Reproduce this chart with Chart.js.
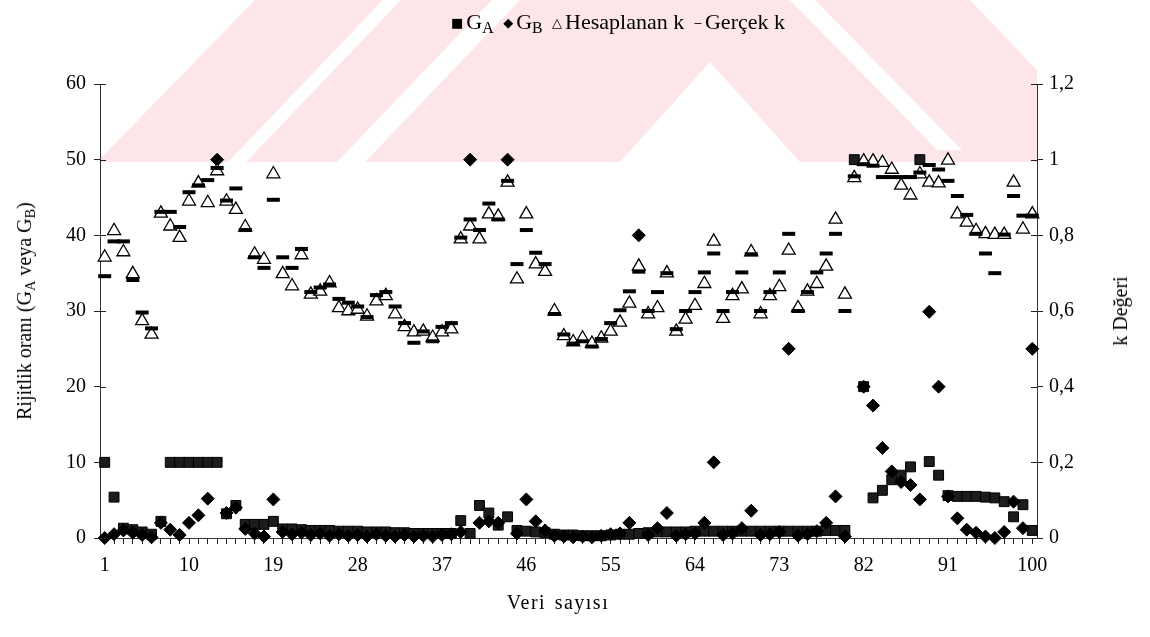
<!DOCTYPE html>
<html>
<head>
<meta charset="utf-8">
<script src="https://cdn.jsdelivr.net/npm/chart.js@4.4.0/dist/chart.umd.min.js"></script>
<style>
  html, body { margin: 0; padding: 0; background: #fff; }
  #wrap { position: relative; width: 1150px; height: 637px; font-family: 'Liberation Serif', 'Times New Roman', serif; color: #000; }
  #chart { position: absolute; left: 0; top: 0; }
  .lbl { position: absolute; white-space: nowrap; font-size: 20px; line-height: 1; }
  .lbl sub { font-size: 0.72em; vertical-align: -0.25em; line-height: 0; }
  #legend { left: 616px; top: 22px; transform: translate(-50%, -50%); font-size: 22px; }
  #legend .mk { font-family: 'DejaVu Sans', sans-serif; font-size: 13px; vertical-align: 2px; margin: 0 3px 0 4px; }
  #ytitle { left: 24px; top: 311px; transform: translate(-50%, -50%) rotate(-90deg); }
  #y2title { left: 1120px; top: 311px; transform: translate(-50%, -50%) rotate(-90deg); }
  #xtitle { left: 558px; top: 602px; transform: translate(-50%, -50%); letter-spacing: 1.5px; word-spacing: 2px; }
</style>
</head>
<body>
<div id="wrap">
  <canvas id="chart" width="1150" height="637"></canvas>
  <div class="lbl" id="legend"><span class="mk">■</span>G<sub>A</sub> <span class="mk">◆</span>G<sub>B</sub> <span class="mk">△</span>Hesaplanan k <span class="mk">‒</span>Gerçek k</div>
  <div class="lbl" id="ytitle">Rijitlik oranı (G<sub>A</sub> veya G<sub>B</sub>)</div>
  <div class="lbl" id="y2title">k Değeri</div>
  <div class="lbl" id="xtitle">Veri sayısı</div>
</div>
<script>
Chart.defaults.font.family = "'Liberation Serif', 'Times New Roman', serif";
Chart.defaults.font.size = 20;
Chart.defaults.color = '#000';

// categories: data number 1..100
const labels = Array.from({ length: 100 }, (_, i) => String(i + 1));
const xTickLabels = ['1', '10', '19', '28', '37', '46', '55', '64', '73', '82', '91', '100'];

// rigidity ratio G_A (left axis)
const gA = [
    10, 5.4, 1.3, 1.1, 0.8, 0.5, 2.2, 10, 10, 10,
    10, 10, 10, 3.2, 4.3, 1.8, 1.8, 1.8, 2.2, 1.2,
    1.2, 1.1, 1.0, 1.0, 1.0, 0.9, 0.9, 0.9, 0.8, 0.8,
    0.8, 0.7, 0.7, 0.6, 0.6, 0.6, 0.6, 0.6, 2.3, 0.6,
    4.3, 3.3, 1.7, 2.8, 1.0, 0.9, 0.8, 0.7, 0.5, 0.4,
    0.4, 0.3, 0.3, 0.3, 0.4, 0.5, 0.5, 0.6, 0.7, 0.8,
    0.8, 0.8, 0.8, 0.9, 0.9, 0.9, 0.9, 0.9, 0.9, 0.9,
    0.9, 0.9, 0.9, 0.9, 0.9, 0.9, 0.9, 1.0, 1.0, 1.0,
    50, 20, 5.3, 6.3, 7.7, 8.3, 9.4, 50, 10.1, 8.3,
    5.6, 5.5, 5.5, 5.5, 5.4, 5.3, 4.8, 2.8, 4.4, 1.0
];

// rigidity ratio G_B (left axis)
const gB = [
    0, 0.5, 1.0, 0.7, 0.4, 0.1, 2.0, 1.1, 0.4, 2.0,
    3.0, 5.2, 50, 3.3, 4.0, 1.2, 0.6, 0.2, 5.1, 0.8,
    0.5, 0.7, 0.4, 0.6, 0.3, 0.5, 0.3, 0.4, 0.2, 0.5,
    0.3, 0.2, 0.4, 0.2, 0.3, 0.2, 0.4, 0.5, 0.8, 50,
    2.0, 2.2, 2.0, 50, 0.6, 5.1, 2.2, 1.0, 0.3, 0.2,
    0.1, 0.2, 0.1, 0.3, 0.5, 0.6, 2.0, 40, 0.4, 1.3,
    3.3, 0.3, 0.5, 0.6, 2.0, 10, 0.4, 0.6, 1.3, 3.6,
    0.4, 0.5, 0.8, 25, 0.3, 0.5, 0.9, 2.0, 5.5, 0.2,
    null, 20, 17.5, 11.9, 8.8, 7.4, 7.0, 5.1, 29.9, 20,
    5.5, 2.6, 1.1, 0.7, 0.2, 0, 0.8, 4.8, 1.3, 25
];

// computed k (right axis)
const kCalc = [
    0.742, 0.812, 0.756, 0.698, 0.574, 0.538, 0.858, 0.824, 0.794, 0.890,
    0.938, 0.886, 0.970, 0.890, 0.868, 0.822, 0.750, 0.736, 0.962, 0.698,
    0.666, 0.748, 0.644, 0.652, 0.674, 0.608, 0.600, 0.604, 0.586, 0.626,
    0.640, 0.592, 0.558, 0.544, 0.546, 0.530, 0.544, 0.552, 0.790, 0.824,
    0.790, 0.856, 0.850, 0.940, 0.684, 0.856, 0.724, 0.704, 0.600, 0.534,
    0.518, 0.528, 0.514, 0.528, 0.546, 0.570, 0.620, 0.718, 0.592, 0.608,
    0.700, 0.546, 0.578, 0.614, 0.672, 0.784, 0.580, 0.640, 0.658, 0.756,
    0.592, 0.640, 0.664, 0.760, 0.608, 0.652, 0.672, 0.718, 0.842, 0.644,
    0.952, 0.996, 0.996, 0.992, 0.974, 0.932, 0.906, 0.962, 0.940, 0.938,
    0.998, 0.856, 0.834, 0.812, 0.804, 0.802, 0.802, 0.940, 0.816, 0.856
];

// real k (right axis)
const kReal = [
    0.692, 0.784, 0.784, 0.682, 0.596, 0.554, 0.862, 0.862, 0.822, 0.914,
    0.932, 0.946, 0.978, 0.892, 0.924, 0.814, 0.742, 0.714, 0.894, 0.742,
    0.714, 0.764, 0.650, 0.662, 0.670, 0.632, 0.622, 0.612, 0.584, 0.642,
    0.650, 0.612, 0.568, 0.516, 0.546, 0.520, 0.558, 0.568, 0.794, 0.842,
    0.814, 0.884, 0.842, 0.944, 0.724, 0.814, 0.754, 0.724, 0.592, 0.538,
    0.514, 0.520, 0.506, 0.526, 0.568, 0.602, 0.652, 0.704, 0.600, 0.650,
    0.700, 0.552, 0.600, 0.650, 0.702, 0.752, 0.600, 0.650, 0.702, 0.750,
    0.600, 0.650, 0.702, 0.804, 0.600, 0.650, 0.702, 0.752, 0.804, 0.600,
    0.956, 0.988, 0.984, 0.954, 0.954, 0.954, 0.954, 0.966, 0.986, 0.974,
    0.944, 0.904, 0.854, 0.804, 0.752, 0.700, 0.802, 0.904, 0.852, 0.852
];

// faint pink watermark band behind the top of the plot
const watermark = {
    id: 'watermark',
    beforeDraw(chart) {
        const ctx = chart.ctx;
        ctx.save();
        ctx.fillStyle = '#fce6e9';
        ctx.fillRect(99, 0, 938, 162);
        ctx.fillStyle = '#ffffff';
        const polys = [
            [[99, 0], [255, 0], [99, 160]],
            [[228, 162], [246, 162], [401, 0], [383, 0]],
            [[337, 162], [365, 162], [520, 0], [492, 0]],
            [[620, 162], [800, 162], [710, 62]],
            [[790, 0], [815, 0], [962, 150], [937, 150]],
            [[970, 0], [1037, 0], [1037, 70]]
        ];
        polys.forEach(p => {
            ctx.beginPath();
            ctx.moveTo(p[0][0], p[0][1]);
            p.slice(1).forEach(q => ctx.lineTo(q[0], q[1]));
            ctx.closePath();
            ctx.fill();
        });
        ctx.restore();
    }
};

// short tick marks inside the plot, so the axis ticks cross the axis lines
const crossTicks = {
    id: 'crossTicks',
    afterDraw(chart) {
        const { ctx, chartArea: a, scales } = chart;
        ctx.save();
        ctx.strokeStyle = '#222';
        ctx.lineWidth = 1;
        ctx.beginPath();
        scales.y.ticks.forEach(t => {
            const py = Math.round(scales.y.getPixelForValue(t.value)) + 0.5;
            ctx.moveTo(a.left, py);
            ctx.lineTo(a.left + 6, py);
        });
        scales.y2.ticks.forEach(t => {
            const py = Math.round(scales.y2.getPixelForValue(t.value)) + 0.5;
            ctx.moveTo(a.right, py);
            ctx.lineTo(a.right - 6, py);
        });
        ctx.stroke();
        ctx.restore();
    }
};

const pointSet = {
    showLine: false,
    clip: false
};

const data = {
    labels: labels,
    datasets: [
        {
            ...pointSet,
            label: 'GA',
            data: gA,
            yAxisID: 'y',
            pointStyle: 'rect',
            pointRadius: 7,
            backgroundColor: '#1c1c1c',
            borderColor: '#000',
            borderWidth: 1,
            order: 4
        },
        {
            ...pointSet,
            label: 'GB',
            data: gB,
            yAxisID: 'y',
            pointStyle: 'rectRot',
            pointRadius: 6.5,
            backgroundColor: '#000',
            borderColor: '#000',
            borderWidth: 1,
            order: 3
        },
        {
            ...pointSet,
            label: 'Hesaplanan k',
            data: kCalc,
            yAxisID: 'y2',
            pointStyle: 'triangle',
            pointRadius: 7.5,
            backgroundColor: '#fff',
            borderColor: '#000',
            borderWidth: 1.3,
            order: 2
        },
        {
            ...pointSet,
            label: 'Gerçek k',
            data: kReal,
            yAxisID: 'y2',
            pointStyle: 'line',
            pointRadius: 6.5,
            borderColor: '#000',
            borderWidth: 4,
            order: 1
        }
    ]
};

const config = {
    type: 'line',
    data: data,
    options: {
        responsive: false,
        animation: false,
        layout: { padding: { top: 84, left: 0, right: 0, bottom: 0 } },
        plugins: {
            legend: { display: false },
            tooltip: { enabled: false }
        },
        scales: {
            x: {
                type: 'category',
                offset: true,
                grid: { offset: false, drawOnChartArea: false, tickLength: 6, color: '#222' },
                border: { color: '#333', width: 1 },
                ticks: {
                    autoSkip: false,
                    maxRotation: 0,
                    padding: 10,
                    callback: function (value) {
                        const l = this.getLabelForValue(value);
                        return xTickLabels.includes(l) ? l : '';
                    }
                },
                afterFit: s => { s.height = 99; }
            },
            y: {
                position: 'left',
                min: 0,
                max: 60,
                grid: { drawOnChartArea: false, tickLength: 6, color: '#222' },
                border: { color: '#333', width: 1 },
                ticks: { stepSize: 10, padding: 8 },
                afterFit: s => { s.width = 100; }
            },
            y2: {
                position: 'right',
                min: 0,
                max: 1.2,
                grid: { drawOnChartArea: false, tickLength: 6, color: '#222' },
                border: { color: '#333', width: 1 },
                ticks: {
                    stepSize: 0.2,
                    padding: 6,
                    callback: v => String(Math.round(v * 10) / 10).replace('.', ',')
                },
                afterFit: s => { s.width = 113; }
            }
        }
    },
    plugins: [watermark, crossTicks]
};

const rigidityChart = new Chart(document.getElementById('chart'), config);
</script>
</body>
</html>
